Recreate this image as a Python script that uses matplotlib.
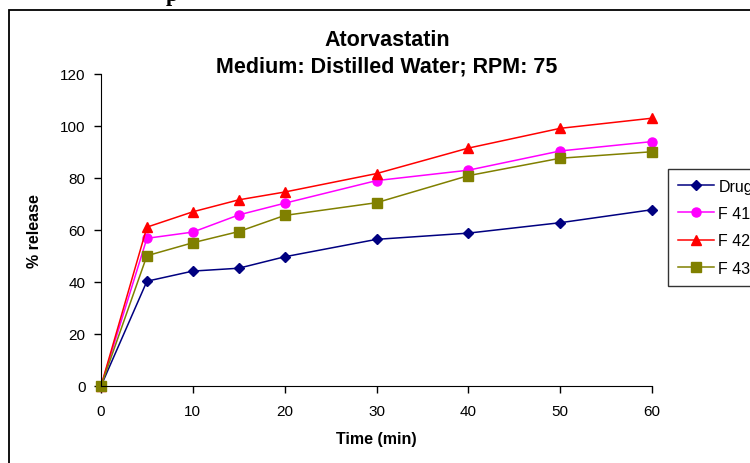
"""Atorvastatin dissolution profile in distilled water at 75 RPM."""

import matplotlib

matplotlib.use("Agg")
import matplotlib.pyplot as plt
from matplotlib.patches import Rectangle

plt.rcParams["font.family"] = ["Liberation Sans", "DejaVu Sans"]

time_min = [0, 5, 10, 15, 20, 30, 40, 50, 60]
drug = [0, 40.3, 44.2, 45.3, 49.7, 56.4, 58.8, 62.8, 67.8]
f41 = [0, 56.8, 59.2, 65.8, 70.3, 79.0, 83.0, 90.4, 94.0]
f42 = [0, 61.1, 67.0, 71.6, 74.6, 81.7, 91.5, 99.1, 103.0]
f43 = [0, 50.1, 55.1, 59.4, 65.6, 70.5, 80.9, 87.6, 90.1]

series = [
    ("Drug", drug, "#000080", "D", 5.0),
    ("F 41", f41, "#FF00FF", "o", 6.5),
    ("F 42", f42, "#FF0000", "^", 7.5),
    ("F 43", f43, "#808000", "s", 7.0),
]

fig = plt.figure(figsize=(7.5, 4.64), dpi=100)

# chart frame (runs off the right and bottom edge)
W, H = 750, 464
fig.patches.append(
    Rectangle((9 / W, -0.1), 1.2, 1 - 11 / H + 0.1, transform=fig.transFigure,
              fill=False, edgecolor="black", linewidth=1.3, zorder=0)
)
# tail of the heading text above the frame
fig.text(172 / W, 1 - 1 / H, "p", family="Liberation Serif", fontweight="bold",
         fontsize=16, va="baseline", ha="center")

ax = fig.add_axes([101 / W, 1 - 387 / H, 551 / W, 312 / H])

for label, values, color, marker, ms in series:
    ax.plot(time_min, values, color=color, marker=marker, markersize=ms,
            linewidth=1.1, label=label, clip_on=False)

ax.set_xlim(0, 60)
ax.set_ylim(0, 120)
ax.set_xticks(range(0, 61, 10))
ax.set_yticks(range(0, 121, 20))
ax.spines["top"].set_visible(False)
ax.spines["right"].set_visible(False)
ax.tick_params(direction="out", length=5, width=1, labelsize=11, pad=6)
ax.tick_params(axis="x", pad=8)

ax.set_xlabel("Time (min)", fontweight="bold", fontsize=11.5, labelpad=9)
ax.set_ylabel("% release", fontweight="bold", fontsize=11.5, labelpad=13)

fig.text(387 / W, 1 - 40 / H, "Atorvastatin", ha="center", va="center",
         fontweight="bold", fontsize=15.5)
fig.text(387 / W, 1 - 67 / H, "Medium: Distilled Water; RPM: 75", ha="center",
         va="center", fontweight="bold", fontsize=15.5)

leg = ax.legend(loc="upper left", bbox_to_anchor=(668 / W, 1 - 170 / H),
                bbox_transform=fig.transFigure, fontsize=11.5, frameon=True,
                fancybox=False, borderpad=0.6, labelspacing=0.78,
                handlelength=2.3, handletextpad=0.25, borderaxespad=0)
leg.get_frame().set_edgecolor("black")
leg.get_frame().set_linewidth(1.0)

fig.savefig("out.png", dpi=100)
